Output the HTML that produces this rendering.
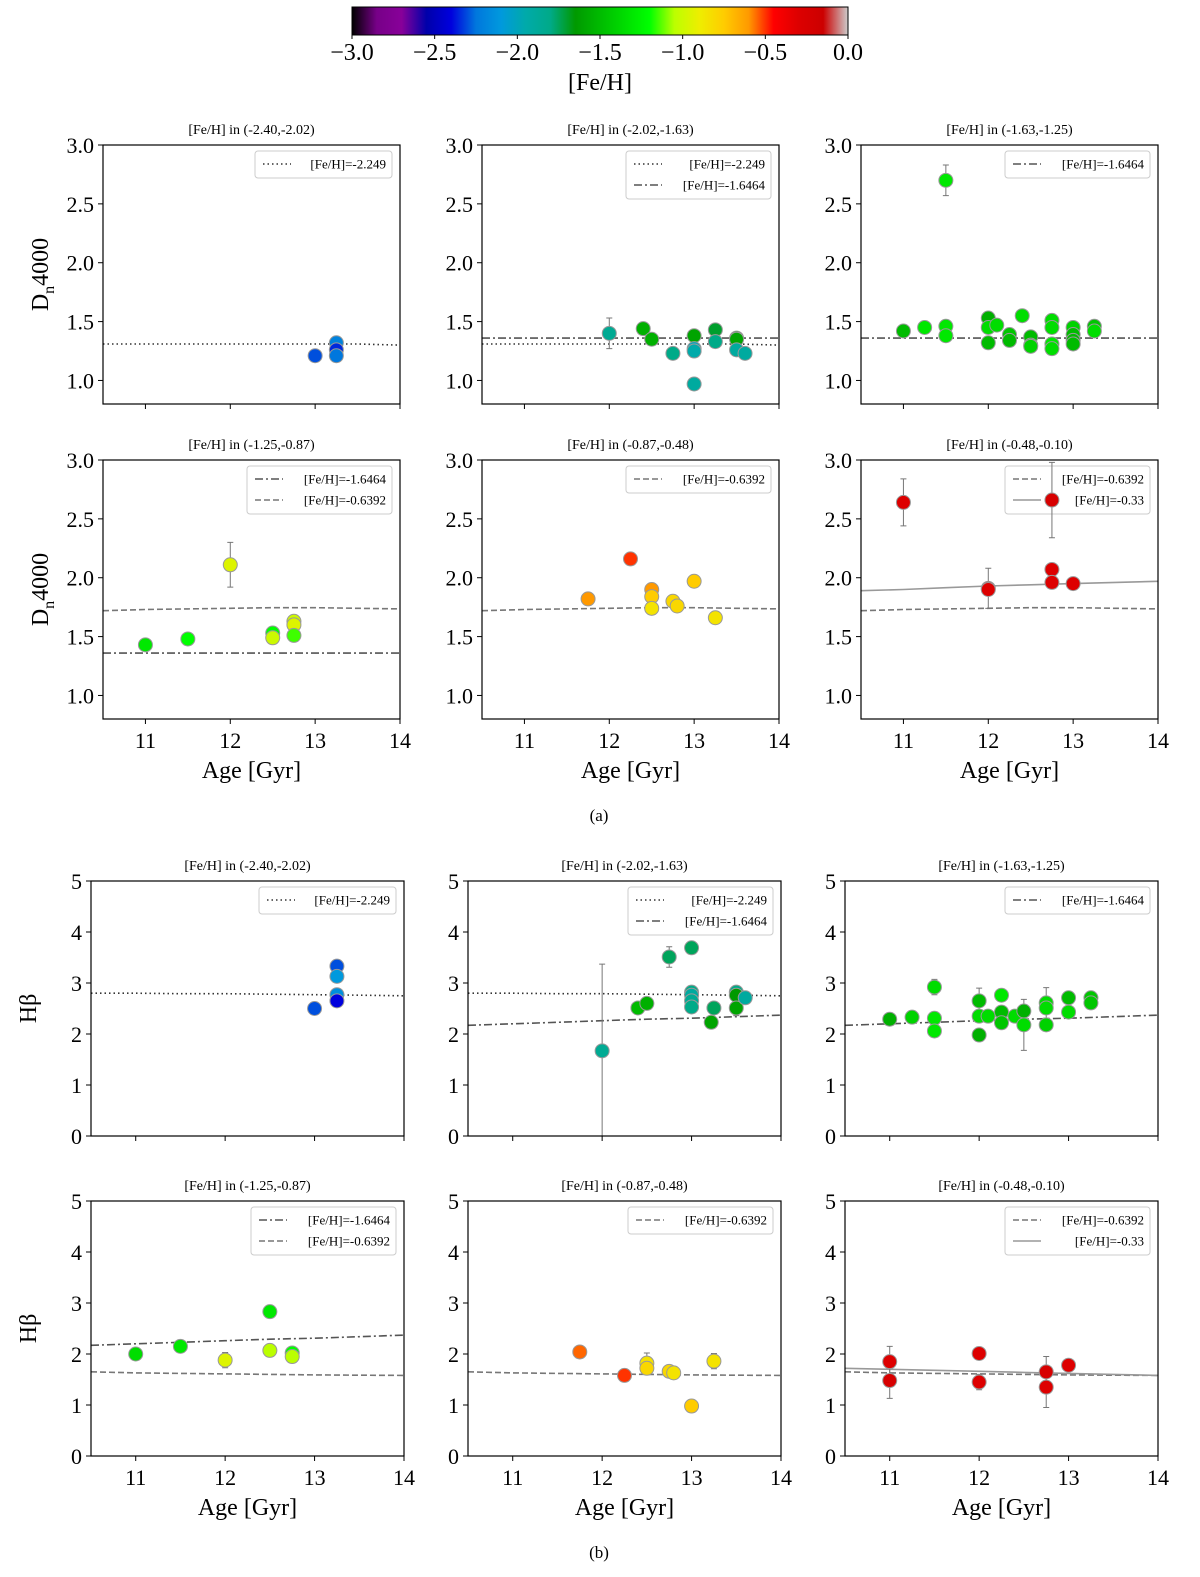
<!DOCTYPE html>
<html><head><meta charset="utf-8"><style>
body{margin:0;background:#fff;}
svg text{font-family:"Liberation Serif",serif;fill:#000;}
</style></head><body>
<svg id="fig" width="1200" height="1572" viewBox="0 0 1200 1572" xmlns="http://www.w3.org/2000/svg">
<defs><linearGradient id="cbgrad" x1="0" x2="1" y1="0" y2="0"></linearGradient></defs>
</svg>
<script>
// ---------- data ----------
const a1Age=[13.0,13.25,13.25,13.25];
const a1Val=[1.21,1.32,1.26,1.21];
const a1Feh=[-2.3,-2.2,-2.35,-2.25];
const a1Err=[0,0,0,0];
const a2Age=[12.0,12.4,12.5,12.75,13.0,13.0,13.0,13.0,13.25,13.25,13.5,13.5,13.5,13.6];
const a2Val=[1.40,1.44,1.35,1.23,1.38,1.27,1.25,0.97,1.43,1.33,1.36,1.35,1.26,1.23];
const a2Feh=[-1.85,-1.55,-1.55,-1.8,-1.6,-2.0,-1.95,-1.9,-1.7,-1.8,-1.65,-1.6,-1.9,-1.9];
const a2Err=[0.13,0,0,0,0,0,0,0,0,0,0,0,0,0];
const a3Age=[11.0,11.25,11.5,11.5,11.5,12.0,12.0,12.0,12.1,12.25,12.25,12.4,12.5,12.5,12.5,12.75,12.75,12.75,12.75,13.0,13.0,13.0,13.0,13.25,13.25];
const a3Val=[1.42,1.45,1.46,1.38,2.70,1.53,1.45,1.32,1.47,1.39,1.34,1.55,1.37,1.30,1.29,1.51,1.45,1.31,1.27,1.45,1.39,1.34,1.31,1.46,1.42];
const a3Feh=[-1.5,-1.3,-1.3,-1.3,-1.3,-1.55,-1.35,-1.5,-1.35,-1.45,-1.5,-1.35,-1.5,-1.45,-1.4,-1.35,-1.35,-1.3,-1.35,-1.4,-1.5,-1.5,-1.5,-1.45,-1.35];
const a3Err=[0,0,0,0,0.13,0,0,0,0,0,0,0,0,0,0,0,0,0,0,0,0,0,0,0,0];
const a4Age=[11.0,11.5,12.0,12.5,12.5,12.75,12.75,12.75];
const a4Val=[1.43,1.48,2.11,1.53,1.49,1.63,1.60,1.51];
const a4Feh=[-1.3,-1.2,-0.95,-1.2,-1.0,-1.0,-0.95,-1.15];
const a4Err=[0,0,0.19,0,0,0,0,0];
const a5Age=[11.75,12.25,12.5,12.5,12.5,12.75,12.8,13.0,13.25];
const a5Val=[1.82,2.16,1.90,1.84,1.74,1.80,1.76,1.97,1.66];
const a5Feh=[-0.6,-0.5,-0.6,-0.75,-0.85,-0.8,-0.8,-0.75,-0.85];
const a5Err=[0,0,0,0,0,0,0,0,0];
const a6Age=[11.0,12.0,12.0,12.75,12.75,12.75,13.0];
const a6Val=[2.64,1.91,1.90,2.66,2.07,1.96,1.95];
const a6Feh=[-0.3,-0.35,-0.3,-0.25,-0.3,-0.3,-0.3];
const a6Err=[0.2,0.17,0,0.32,0,0,0];
const b1Age=[13.0,13.25,13.25,13.25,13.25];
const b1Val=[2.5,3.33,3.13,2.77,2.65];
const b1Feh=[-2.3,-2.3,-2.1,-2.15,-2.4];
const b1Err=[0,0,0,0,0];
const b2Age=[12.0,12.4,12.5,12.75,13.0,13.0,13.0,13.0,13.0,13.25,13.22,13.5,13.5,13.5,13.6];
const b2Val=[1.67,2.51,2.6,3.51,3.69,2.82,2.76,2.65,2.53,2.51,2.23,2.82,2.76,2.51,2.71];
const b2Feh=[-1.85,-1.5,-1.55,-1.75,-1.75,-1.8,-1.9,-1.85,-1.8,-1.75,-1.6,-1.8,-1.65,-1.6,-1.9];
const b2Err=[1.7,0,0,0.2,0,0,0,0,0,0,0,0,0,0.15,0];
const b3Age=[11.0,11.25,11.5,11.5,11.5,12.0,12.0,12.0,12.1,12.25,12.25,12.25,12.4,12.5,12.5,12.75,12.75,12.75,13.0,13.0,13.25,13.25];
const b3Val=[2.29,2.33,2.92,2.31,2.06,2.65,2.35,1.98,2.35,2.76,2.43,2.22,2.35,2.45,2.18,2.61,2.51,2.18,2.71,2.43,2.71,2.61];
const b3Feh=[-1.55,-1.4,-1.35,-1.3,-1.3,-1.5,-1.35,-1.55,-1.35,-1.3,-1.5,-1.45,-1.35,-1.55,-1.35,-1.35,-1.35,-1.4,-1.5,-1.35,-1.45,-1.45];
const b3Err=[0,0,0.15,0,0,0.25,0,0,0,0,0,0,0,0.1,0.5,0.3,0,0,0,0,0,0];
const b4Age=[11.0,11.5,12.0,12.5,12.5,12.75,12.75];
const b4Val=[2.0,2.15,1.88,2.83,2.07,2.02,1.95];
const b4Feh=[-1.35,-1.3,-0.95,-1.3,-1.05,-1.2,-1.05];
const b4Err=[0,0,0.15,0,0,0,0];
const b5Age=[11.75,12.25,12.5,12.5,12.75,12.8,13.0,13.25];
const b5Val=[2.04,1.58,1.82,1.72,1.66,1.63,0.98,1.86];
const b5Feh=[-0.55,-0.5,-0.85,-0.8,-0.8,-0.85,-0.75,-0.85];
const b5Err=[0,0,0.2,0,0,0,0,0.15];
const b6Age=[11.0,11.0,12.0,12.0,12.75,12.75,13.0];
const b6Val=[1.85,1.48,2.01,1.45,1.65,1.35,1.78];
const b6Feh=[-0.3,-0.25,-0.3,-0.3,-0.25,-0.3,-0.3];
const b6Err=[0.3,0.35,0,0.15,0.3,0.4,0];
// model curves
const curveAge=[10.5,11,11.5,12,12.5,13,13.5,14];
const dnDot=[1.31,1.31,1.31,1.31,1.31,1.31,1.31,1.30];
const dnDashDot=[1.36,1.36,1.36,1.36,1.36,1.36,1.36,1.36];
const dnDash=[1.72,1.73,1.735,1.74,1.745,1.745,1.74,1.735];
const dnSolid=[1.89,1.90,1.915,1.93,1.94,1.95,1.96,1.97];
const hbDot=[2.80,2.80,2.79,2.79,2.78,2.77,2.76,2.75];
const hbDashDot=[2.17,2.20,2.23,2.26,2.29,2.31,2.34,2.37];
const hbDash=[1.65,1.63,1.62,1.61,1.60,1.59,1.585,1.58];
const hbSolid=[1.72,1.70,1.68,1.66,1.64,1.62,1.60,1.58];
const cbTicks=[-3.0,-2.5,-2.0,-1.5,-1.0,-0.5,0.0];
const dnTicks=[1.0,1.5,2.0,2.5,3.0];
const hbTicks=[0,1,2,3,4,5];
const ageTicks=[11,12,13,14];

// ---------- helpers ----------
const NS="http://www.w3.org/2000/svg";
const svg=document.getElementById('fig');
function mk(tag,attrs,parent){const e=document.createElementNS(NS,tag);for(const k in attrs)e.setAttribute(k,attrs[k]);(parent||svg).appendChild(e);return e;}
const cmStops=[[0,0,0,0],[.05,.4667,0,.5333],[.10,.5333,0,.6],[.15,0,0,.6667],[.20,0,0,.8667],[.25,0,.4667,.8667],[.30,0,.6,.8667],[.35,0,.6667,.6667],[.40,0,.6667,.5333],[.45,0,.6,0],[.50,0,.7333,0],[.55,0,.8667,0],[.60,0,1,0],[.65,.7333,1,0],[.70,.9333,.9333,0],[.75,1,.8,0],[.80,1,.6,0],[.85,1,0,0],[.90,.8667,0,0],[.95,.8,0,0],[1,.8,.8,.8]];
function cmap(f){let t=Math.max(0,Math.min(1,(f+3)/3));for(let i=1;i<cmStops.length;i++){if(t<=cmStops[i][0]){const a=cmStops[i-1],b=cmStops[i];const u=(t-a[0])/(b[0]-a[0]);const c=[1,2,3].map(k=>Math.round(255*(a[k]+u*(b[k]-a[k]))));return `rgb(${c[0]},${c[1]},${c[2]})`;}}return 'rgb(204,204,204)';}
function fmt(v){return (v<0?'\u2212':'')+Math.abs(v).toFixed(1);}

// ---------- colorbar ----------
const grad=document.getElementById('cbgrad');
cmStops.forEach(s=>{mk('stop',{offset:s[0],'stop-color':cmap(s[0]*3-3)},grad);});
const cbX0=352,cbX1=848;
const cbRect=mk('rect',{x:cbX0,y:7,width:cbX1-cbX0,height:28,fill:'url(#cbgrad)',stroke:'#000','stroke-width':1});


cbTicks.forEach(v=>{const x=cbX0+(v+3)/3*(cbX1-cbX0);
 mk('line',{x1:x,x2:x,y1:35,y2:39,stroke:'#000'});
 const t=mk('text',{x:x,y:60,'font-size':24,'text-anchor':'middle'});t.textContent=fmt(v);
 
 });
const cbl=mk('text',{x:600,y:90,'font-size':24,'text-anchor':'middle'});cbl.textContent='[Fe/H]';



// ---------- panels ----------
function panel(o){
 const g=mk('g',{});
 
 
 const X=v=>o.left+(v-10.5)/3.5*o.w;
 const Y=v=>o.top+o.h-(v-o.ymin)/(o.ymax-o.ymin)*o.h;
 const tt=mk('text',{x:o.left+o.w/2,y:o.top-11,'font-size':14,'text-anchor':'middle'},g);tt.textContent=o.title;
 
 
 o.curves.forEach(c=>{
  const pts=curveAge.map((a,i)=>X(a).toFixed(1)+','+Y(c.v[i]).toFixed(1)).join(' ');
  const p=mk('polyline',{points:pts,fill:'none',stroke:c.col,'stroke-width':1.6,'stroke-dasharray':c.dash},g);
  
  
 });
 // legend (drawn below points)
 const lw=o.curves.some(c=>c.label.length>13)?145:137;
 const lh=o.curves.length*21+6;
 const lx=o.left+o.w-lw-8,ly=o.top+6;
 const lg=mk('g',{},g);
 
 
 mk('rect',{x:lx,y:ly,width:lw,height:lh,rx:3,fill:'#fff','fill-opacity':0.8,stroke:'#ccc'},lg);
 o.curves.forEach((c,i)=>{const yy=ly+13+i*21;
  mk('line',{x1:lx+8,x2:lx+36,y1:yy,y2:yy,stroke:c.col,'stroke-width':1.6,'stroke-dasharray':c.dash},lg);
  const t=mk('text',{x:lx+lw-6,y:yy+4.5,'font-size':13,'text-anchor':'end'},lg);t.textContent=c.label;
  
  });
 o.age.forEach((a,i)=>{ if(o.err[i]>0){
  const x=X(a),y1=Math.min(Y(o.val[i]+o.err[i]),o.top+o.h),y2=Math.min(Y(o.val[i]-o.err[i]),o.top+o.h);
  const e=mk('path',{d:`M${x},${y1}V${y2}M${x-3},${y1}H${x+3}M${x-3},${y2}H${x+3}`,stroke:'#777','stroke-width':1},g);
  
  }});
 o.age.forEach((a,i)=>{
  const c=mk('circle',{cx:X(a),cy:Y(o.val[i]),r:7,fill:cmap(o.feh[i]),stroke:'#999','stroke-width':1},g);
  
  });
 const fr=mk('rect',{x:o.left,y:o.top,width:o.w,height:o.h,fill:'none',stroke:'#000','stroke-width':1.2},g);
 
 
 o.yt.forEach(v=>{const y=Y(v);mk('line',{x1:o.left-5,x2:o.left,y1:y,y2:y,stroke:'#000'},g);
  const t=mk('text',{x:o.left-9,y:y+8,'font-size':22,'text-anchor':'end'},g);t.textContent=o.yfmt(v);
  
  });
 ageTicks.forEach(v=>{const x=X(v);mk('line',{x1:x,x2:x,y1:o.top+o.h,y2:o.top+o.h+5,stroke:'#000'},g);
  if(o.xlab){const t=mk('text',{x:x,y:o.top+o.h+29,'font-size':22,'text-anchor':'middle'},g);t.textContent=v;
  
  }});
 if(o.xlab){const t=mk('text',{x:o.left+o.w/2,y:o.top+o.h+59,'font-size':24,'text-anchor':'middle'},g);t.textContent='Age [Gyr]';
  
  }
 if(o.ylab){const t=mk('text',{x:0,y:0,'font-size':24,'text-anchor':'middle',transform:`translate(${o.left-55},${o.top+o.h/2}) rotate(-90)`},g);
  if(o.ylab==='dn'){t.innerHTML='D<tspan font-size="16" dy="6">n</tspan><tspan dy="-6">4000</tspan>';}else t.textContent='H\u03b2';
  
  }
}
const Cdot=(v)=>({v:v,col:'#333',dash:'1.5,3',label:'[Fe/H]=-2.249'});
const Cdd=(v)=>({v:v,col:'#555',dash:'8,3,2,3',label:'[Fe/H]=-1.6464'});
const Cda=(v)=>({v:v,col:'#777',dash:'6,3',label:'[Fe/H]=-0.6392'});
const Cso=(v)=>({v:v,col:'#999',dash:'none',label:'[Fe/H]=-0.33'});
const ttl=['[Fe/H] in (-2.40,-2.02)','[Fe/H] in (-2.02,-1.63)','[Fe/H] in (-1.63,-1.25)','[Fe/H] in (-1.25,-0.87)','[Fe/H] in (-0.87,-0.48)','[Fe/H] in (-0.48,-0.10)'];
const aL=[103,482,861],aT=[145,460],bL=[91,468,845],bT=[881,1201];
const A={ymin:0.8,ymax:3.0,h:259,w:297,yt:dnTicks,yfmt:v=>v.toFixed(1)};
const B={ymin:0,ymax:5,h:255,w:313,yt:hbTicks,yfmt:v=>String(v)};
const aData=[[a1Age,a1Val,a1Feh,a1Err,[Cdot(dnDot)]],[a2Age,a2Val,a2Feh,a2Err,[Cdot(dnDot),Cdd(dnDashDot)]],[a3Age,a3Val,a3Feh,a3Err,[Cdd(dnDashDot)]],
 [a4Age,a4Val,a4Feh,a4Err,[Cdd(dnDashDot),Cda(dnDash)]],[a5Age,a5Val,a5Feh,a5Err,[Cda(dnDash)]],[a6Age,a6Val,a6Feh,a6Err,[Cda(dnDash),Cso(dnSolid)]]];
const bData=[[b1Age,b1Val,b1Feh,b1Err,[Cdot(hbDot)]],[b2Age,b2Val,b2Feh,b2Err,[Cdot(hbDot),Cdd(hbDashDot)]],[b3Age,b3Val,b3Feh,b3Err,[Cdd(hbDashDot)]],
 [b4Age,b4Val,b4Feh,b4Err,[Cdd(hbDashDot),Cda(hbDash)]],[b5Age,b5Val,b5Feh,b5Err,[Cda(hbDash)]],[b6Age,b6Val,b6Feh,b6Err,[Cda(hbDash),Cso(hbSolid)]]];
for(let i=0;i<6;i++){const r=Math.floor(i/3),c=i%3;
 const d=aData[i];
 panel(Object.assign({},A,{name:'dn4000-panel-'+(i+1),left:aL[c],top:aT[r],title:ttl[i],age:d[0],val:d[1],feh:d[2],err:d[3],curves:d[4],xlab:r===1,ylab:c===0?'dn':null}));
 const e=bData[i];
 panel(Object.assign({},B,{name:'hbeta-panel-'+(i+1),left:bL[c],top:bT[r],title:ttl[i],age:e[0],val:e[1],feh:e[2],err:e[3],curves:e[4],xlab:r===1,ylab:c===0?'hb':null}));
}
const la=mk('text',{x:599,y:821,'font-size':17,'text-anchor':'middle'});la.textContent='(a)';


const lb=mk('text',{x:599,y:1558,'font-size':17,'text-anchor':'middle'});lb.textContent='(b)';


</script>
</body></html>
